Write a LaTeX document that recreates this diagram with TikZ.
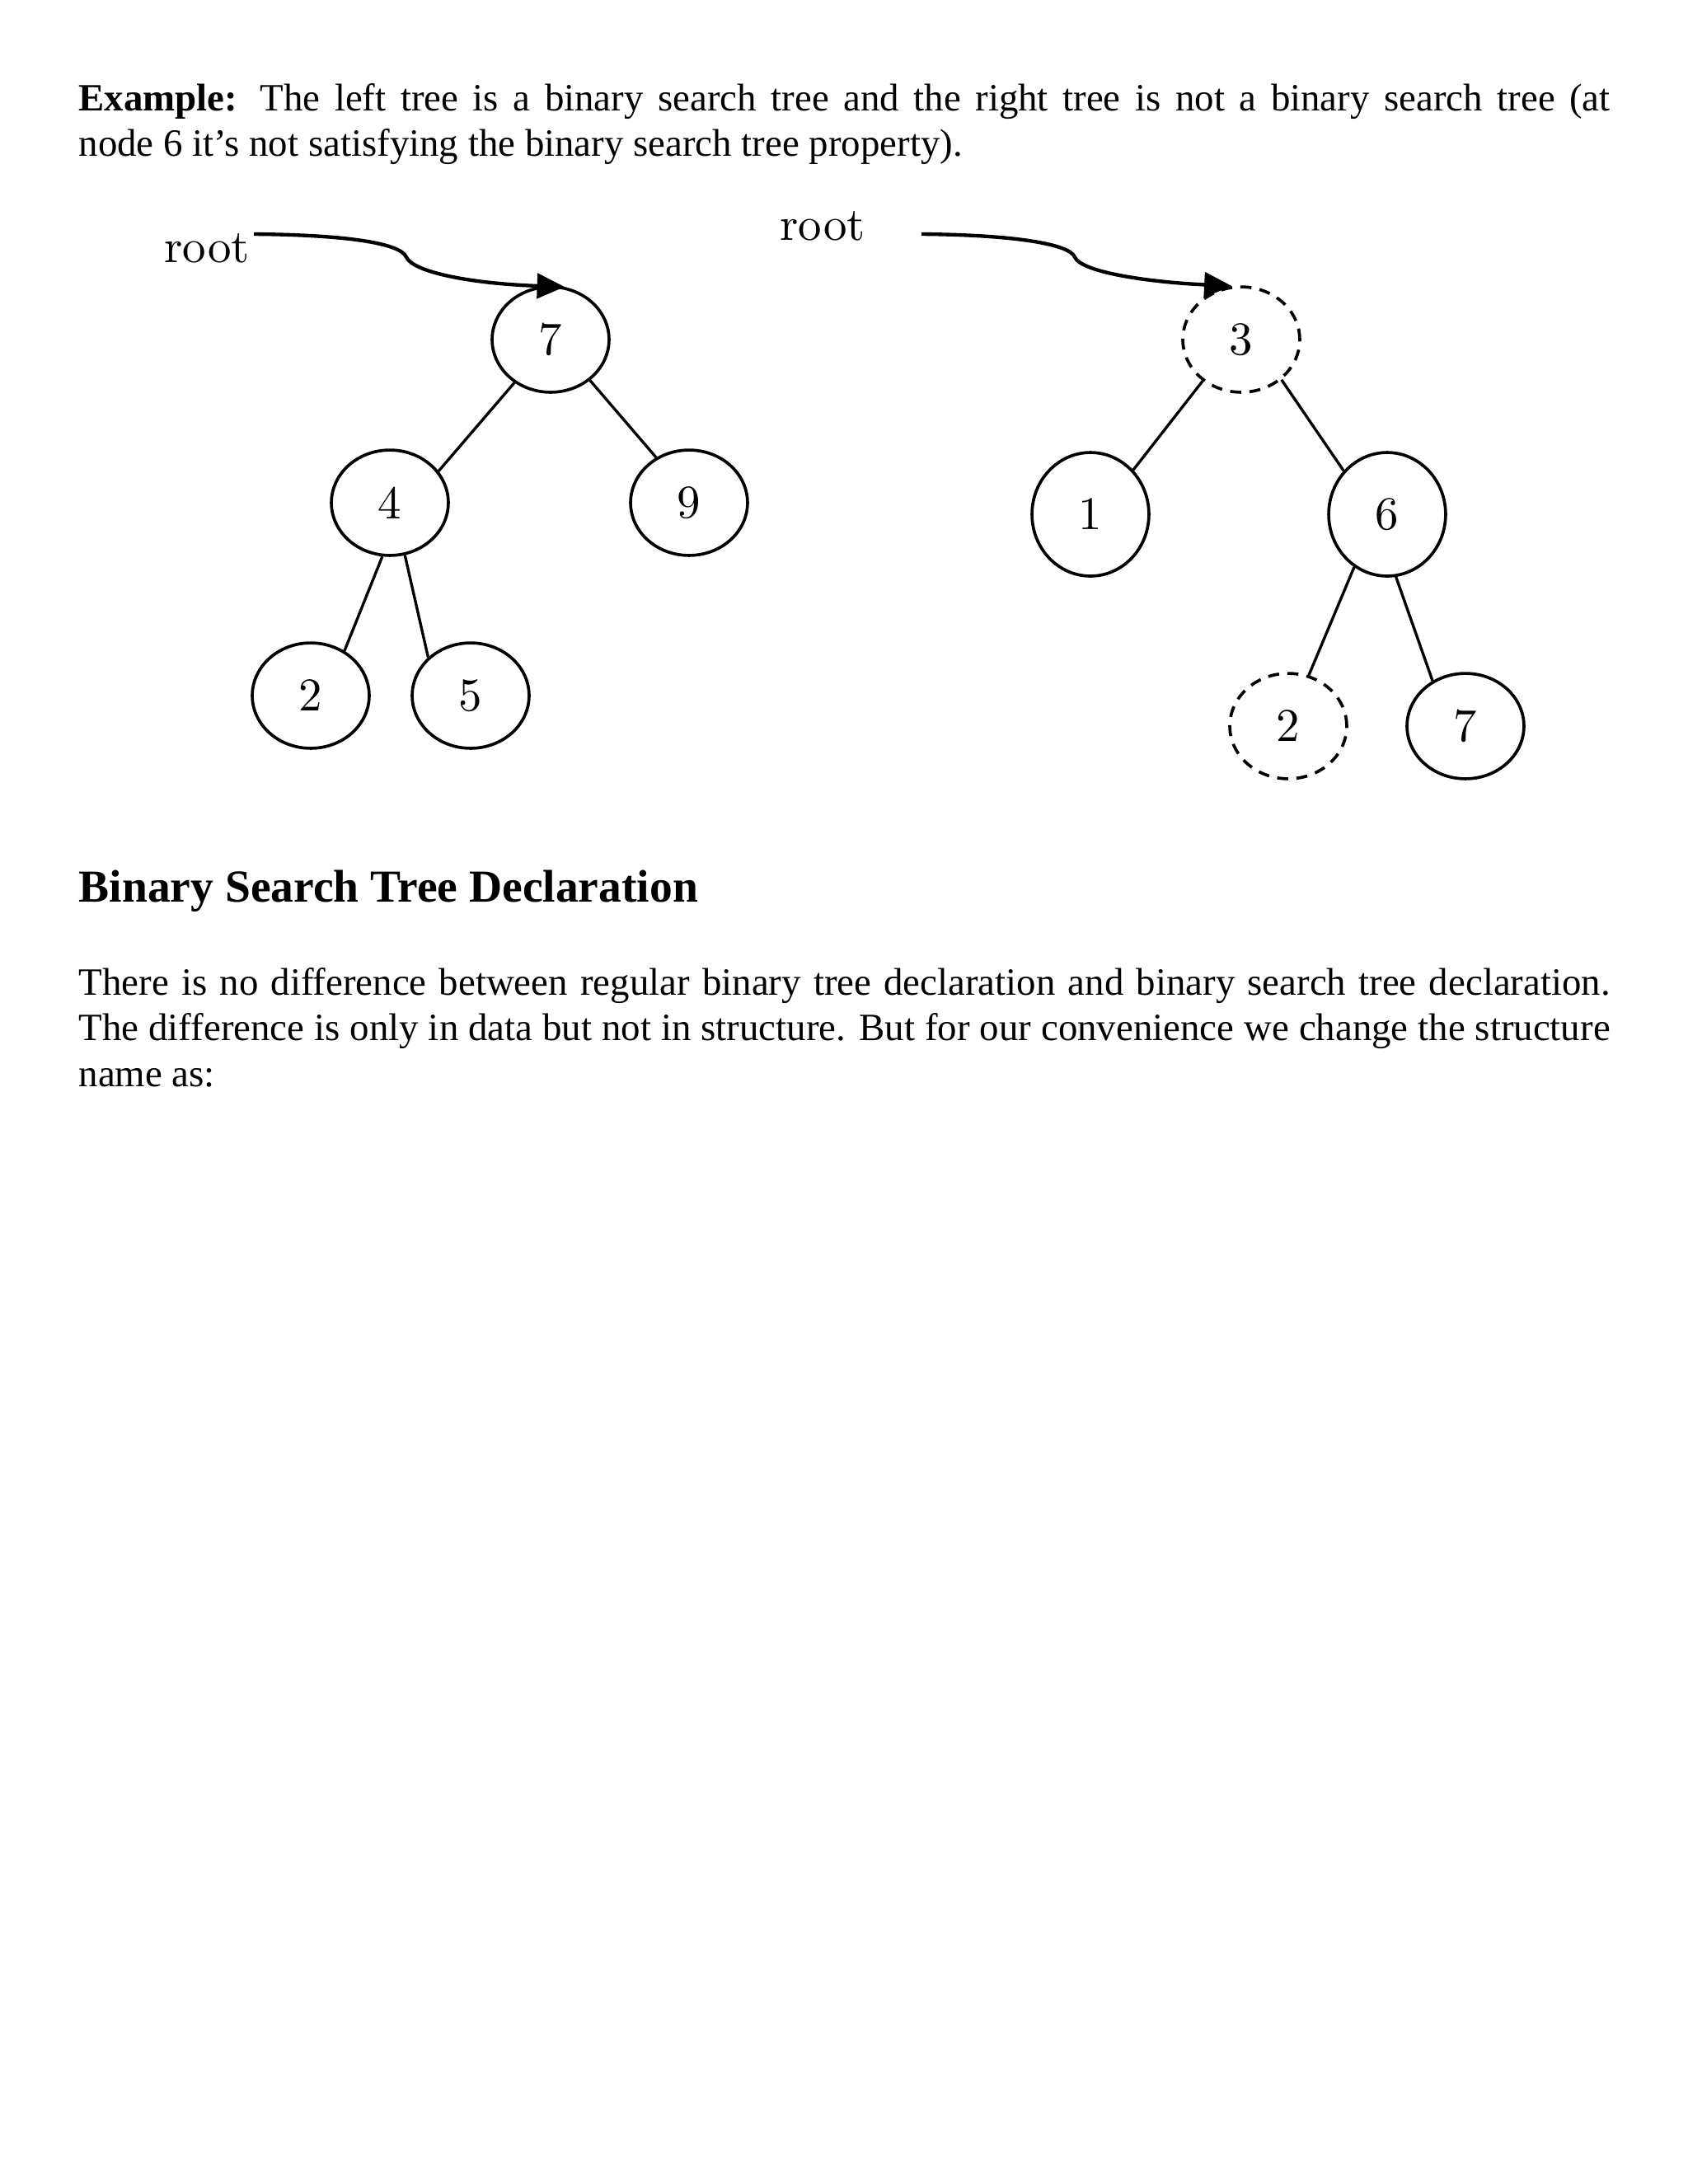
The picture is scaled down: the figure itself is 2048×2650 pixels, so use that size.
\documentclass[tikz,border=0pt]{standalone}
\usepackage{fontspec}
\newfontfamily\bookfont{Liberation Serif}
\newfontfamily\keyfont{lmroman10-regular.otf}
\usetikzlibrary{shapes.geometric,arrows.meta}

\begin{document}
\begin{tikzpicture}[x=0.29883pt, y=-0.29883pt,
    key/.style={draw, ellipse, line width=1.1pt, inner sep=0pt, minimum width=42.4pt, minimum height=38.2pt, font=\keyfont\fontsize{17}{20}\selectfont},
    tallkey/.style={key, minimum height=44.8pt},
    badkey/.style={key, dash pattern=on 4pt off 3pt},
    edge/.style={line width=1pt},
    ptr/.style={line width=1.3pt, -{Triangle[length=10pt,width=9pt]}},
    label/.style={anchor=base west, inner sep=0pt, font=\keyfont\fontsize{17}{20}\selectfont},
    txt/.style={anchor=base west, inner sep=0pt, text width=555.2pt, align=justify, font=\bookfont\fontsize{14}{16.6}\selectfont},
    head/.style={anchor=base west, inner sep=0pt, font=\bookfont\bfseries\fontsize{16.6}{20}\selectfont}]
    \useasboundingbox (0,0) rectangle (2048,2650);

    % intro text
    \node[txt] (intro) at (95,134) {\textbf{Example:} The left tree is a binary search tree and the right tree is not a binary search tree (at\linebreak node 6 it’s not satisfying the binary search tree property).};

    % left tree: a binary search tree
    \node[label] (rootL) at (199,318) {root};
    \coordinate (ptrL) at (308,284);
    \node[key] (L7) at (668,412) {7};
    \node[key] (L4) at (473,610) {4};
    \node[key] (L9) at (836,610) {9};
    \node[key] (L2) at (377,844) {2};
    \node[key] (L5) at (571,844) {5};
    \draw[ptr] (ptrL) .. controls (420,285) and (486,295) .. (493,312) .. controls (501,330) and (570,344) .. (L7.75);
    \draw[edge] (L7.230) -- (L4.33);
    \draw[edge] (L7.314) -- (L9.126);
    \draw[edge] (L4.262) -- (L2.53);
    \draw[edge] (L4.286) -- (L5.138);

    % right tree: not a binary search tree
    \node[label] (rootR) at (946,291) {root};
    \coordinate (ptrR) at (1118,284);
    \node[badkey] (R3) at (1506,412) {3};
    \node[tallkey] (R1) at (1323,624) {1};
    \node[tallkey] (R6) at (1683,624) {6};
    \node[badkey] (R2) at (1563,881) {2};
    \node[key] (R7) at (1778,881) {7};
    \draw[ptr] (ptrR) .. controls (1230,285) and (1298,296) .. (1304,312) .. controls (1312,330) and (1390,342) .. (R3.100);
    \draw[edge] (R3.227) -- (R1.46);
    \draw[edge] (R3.315) -- (R6.135);
    \draw[edge] (R6.238) -- (R2.68);
    \draw[edge] (R6.278) -- (R7.126);

    % section text
    \node[head] (title) at (95,1094) {Binary Search Tree Declaration};
    \node[txt] (decl) at (95,1207) {There is no difference between regular binary tree declaration and binary search tree declaration.\linebreak The difference is only in data but not in structure. But for our convenience we change the structure\linebreak name as:};
\end{tikzpicture}
\end{document}
